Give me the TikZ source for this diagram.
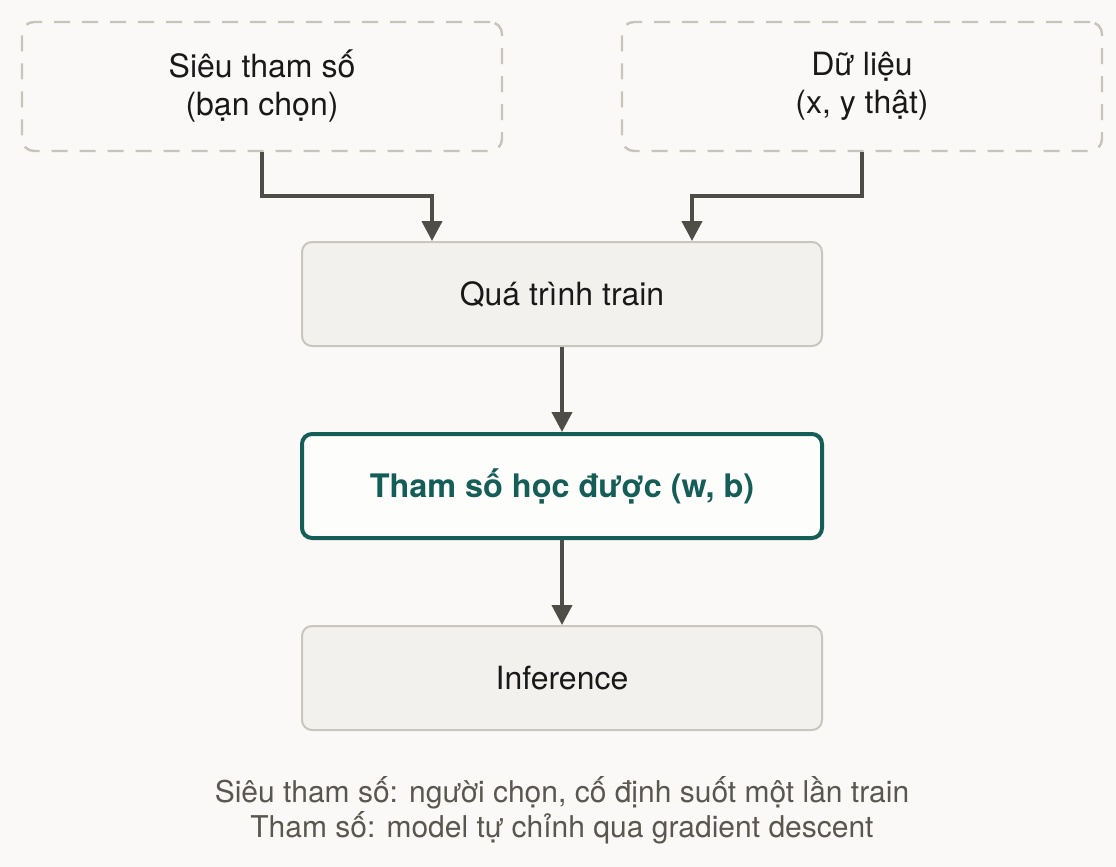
\documentclass[tikz,border=0pt]{standalone}
\usepackage{fontspec}
\setmainfont{TeX Gyre Heros}
\usetikzlibrary{arrows.meta,positioning}
\definecolor{bgpaper}{HTML}{FAF9F7}
\definecolor{boxfill}{HTML}{F2F1EE}
\definecolor{boxline}{HTML}{C9C6BF}
\definecolor{dashline}{HTML}{C8C4BC}
\definecolor{arrowgray}{HTML}{4F4D47}
\definecolor{learnteal}{HTML}{155E58}
\definecolor{notegray}{HTML}{5A5650}

\begin{document}
\begin{tikzpicture}[
        x=0.5pt, y=-0.5pt,
        inbox/.style={draw=dashline, line width=1.2pt, dash pattern=on 8pt off 6pt,
            rounded corners=6pt, fill=bgpaper, minimum width=240pt, minimum height=64.5pt,
            align=center, font=\fontsize{16}{19}\selectfont, text=black!90},
        stage/.style={draw=boxline, line width=1pt, rounded corners=5pt, fill=#1,
            minimum width=260pt, minimum height=52pt, font=\fontsize{16}{19}\selectfont, text=black!90},
        arrow/.style={-{Triangle[length=10pt, width=10pt]}, line width=2pt, arrowgray}
    ]
        \useasboundingbox[fill=bgpaper] (0,0) rectangle (1116,867);

        % Inputs
        \node[inbox] (hyper) at (262,86.5) {Siêu tham số\\(bạn chọn)};
        \node[inbox] (data) at (862,86.5) {Dữ liệu\\(x, y thật)};

        % Pipeline
        \node[stage=boxfill] (train) at (562,294) {Quá trình train};
        \node[stage=white!60!bgpaper, draw=learnteal, line width=2pt,
            font=\fontsize{16.2}{19}\selectfont\bfseries, text=learnteal] (learned) at (562,486) {Tham số học được (w, b)};
        \node[stage=boxfill] (infer) at (562,678) {Inference};

        % Note
        \node[align=center, font=\fontsize{15}{17.5}\selectfont, text=notegray] (note) at (562,810)
            {Siêu tham số: người chọn, cố định suốt một lần train\\Tham số: model tự chỉnh qua gradient descent};

        % Arrows
        \draw[arrow] (hyper.south) -- ++(0,44) -| ([xshift=-65pt]train.north);
        \draw[arrow] (data.south) -- ++(0,44) -| ([xshift=65pt]train.north);
        \foreach \i/\j in {train/learned, learned/infer} {
            \draw[arrow] (\i) -- (\j);
        }
\end{tikzpicture}
\end{document}
